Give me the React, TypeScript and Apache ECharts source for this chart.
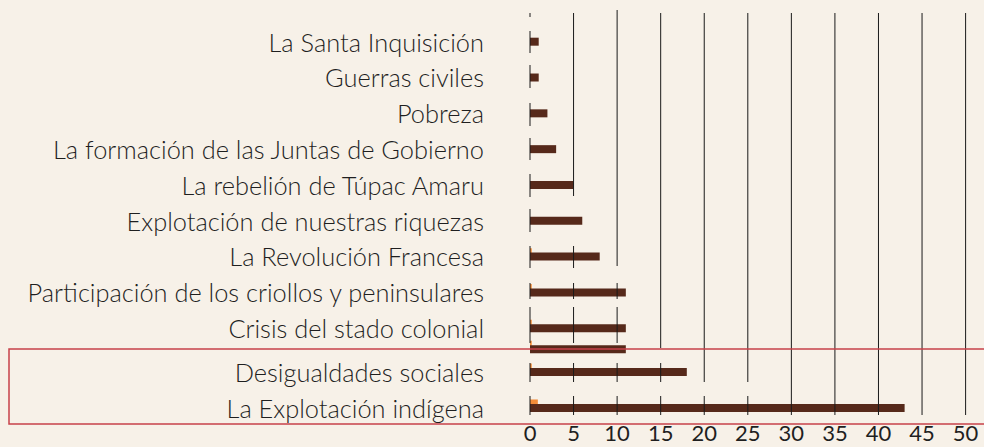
import React, { useEffect, useRef } from 'react';
import * as echarts from 'echarts';

// ---- data ----
const topCategories = [
  'La Santa Inquisición',
  'Guerras civiles',
  'Pobreza',
  'La formación de las Juntas de Gobierno',
  'La rebelión de Túpac Amaru',
  'Explotación de nuestras riquezas',
  'La Revolución Francesa',
  'Participación de los criollos y peninsulares',
  'Crisis del stado colonial',
];
const topMain = [1, 1, 2, 3, 5, 6, 8, 11, 11];
const topSecond = [0, 0, 0, 0, 0, 0, 0.2, 0.2, 0.2];

const midCategories = [''];
const midMain = [11];
const midSecond = [0.2];

const bottomCategories = ['Desigualdades sociales', 'La Explotación indígena'];
const bottomMain = [18, 43];
const bottomSecond = [0.2, 0.9];

const xMin = 0;
const xMax = 50;
const xInterval = 5;

// decorative vertical rule pieces (value on x axis, pixel spans)
const ruleSpans: { v: number; spans: [number, number][] }[] = [
  { v: 0, spans: [[13, 17], [31, 53], [65, 88], [103, 126], [138, 160], [174, 197], [209, 232], [246, 268], [283, 299], [307, 343], [363, 382], [396, 415]] },
  { v: 5, spans: [[13, 196], [246, 268], [283, 299], [307, 343], [363, 382], [396, 415]] },
  { v: 10, spans: [[10, 266], [283, 299], [307, 343], [363, 382], [396, 415]] },
  { v: 15, spans: [[13, 348], [363, 382], [396, 415]] },
  { v: 20, spans: [[13, 382], [396, 415]] },
  { v: 25, spans: [[13, 382], [396, 415]] },
  { v: 30, spans: [[13, 415]] },
  { v: 35, spans: [[13, 415]] },
  { v: 40, spans: [[13, 415]] },
  { v: 45, spans: [[13, 415]] },
  { v: 50, spans: [[13, 415]] },
];

const BG = '#f7f1e8';
const BROWN = '#56291a';
const ORANGE = '#f28c38';
const TEXT = '#1f1f1f';
const FONT = 'Lato';

export default function App() {
  const ref = useRef<HTMLDivElement>(null);

  useEffect(() => {
    if (!ref.current) return;
    const chart = echarts.init(ref.current, null, { renderer: 'svg' });

    const gridLeft = 530;
    const gridWidth = 435.6;
    const grids = [
      { left: gridLeft, width: gridWidth, top: 23.6, height: 322.4 },
      { left: gridLeft, width: gridWidth, top: 339, height: 20 },
      { left: gridLeft, width: gridWidth, top: 353.7, height: 72 },
    ];
    const cats = [topCategories, midCategories, bottomCategories];
    const mains = [topMain, midMain, bottomMain];
    const seconds = [topSecond, midSecond, bottomSecond];

    const xAxis = grids.map((_, i) => ({
      type: 'value',
      gridIndex: i,
      min: xMin,
      max: xMax,
      interval: xInterval,
      axisLine: { show: false },
      axisTick: { show: false },
      splitLine: { show: false },
      axisLabel: {
        show: i === 2,
        fontFamily: FONT,
        fontSize: 22,
        lineHeight: 22,
        color: TEXT,
        margin: -4,
      },
    }));
    const yAxis = grids.map((_, i) => ({
      type: 'category',
      gridIndex: i,
      inverse: true,
      data: cats[i],
      axisLine: { show: false },
      axisTick: { show: false },
      splitLine: { show: false },
      axisLabel: {
        fontFamily: FONT,
        fontSize: 25.4,
        fontWeight: 300,
        color: TEXT,
        margin: 46,
      },
    }));
    const series: any[] = [];
    grids.forEach((_, i) => {
      series.push({
        type: 'bar',
        xAxisIndex: i,
        yAxisIndex: i,
        data: seconds[i],
        barWidth: 5,
        barGap: '-12%',
        itemStyle: { color: ORANGE },
        z: 2,
      });
      series.push({
        type: 'bar',
        xAxisIndex: i,
        yAxisIndex: i,
        data: mains[i],
        barWidth: 8,
        barGap: '-12%',
        itemStyle: { color: BROWN },
        z: 3,
      });
      series.push({
        type: 'bar',
        xAxisIndex: i,
        yAxisIndex: i,
        data: mains[i].map(() => 0),
        barWidth: 5,
        barGap: '-12%',
        itemStyle: { color: 'rgba(0,0,0,0)' },
        silent: true,
      });
    });

    chart.setOption({
      animation: false,
      backgroundColor: BG,
      grid: grids,
      xAxis,
      yAxis,
      series,
    });

    const elements: any[] = [];
    ruleSpans.forEach((r) => {
      const x = chart.convertToPixel({ xAxisIndex: 0 }, r.v) as number;
      r.spans.forEach(([y1, y2]) => {
        elements.push({
          type: 'line',
          z: 50,
          shape: { x1: x, y1, x2: x, y2 },
          style: { stroke: '#1a1a1a', lineWidth: 1 },
          silent: true,
        });
      });
    });
    elements.push({
      type: 'rect',
      z: 60,
      shape: { x: 9, y: 349, width: 1000, height: 75 },
      style: { fill: 'none', stroke: '#c8414a', lineWidth: 1.5 },
      silent: true,
    });
    chart.setOption({ graphic: { elements } });

    return () => chart.dispose();
  }, []);

  return (
    <div
      ref={ref}
      style={{ position: 'fixed', left: 0, top: 0, width: 984, height: 447 }}
    />
  );
}
